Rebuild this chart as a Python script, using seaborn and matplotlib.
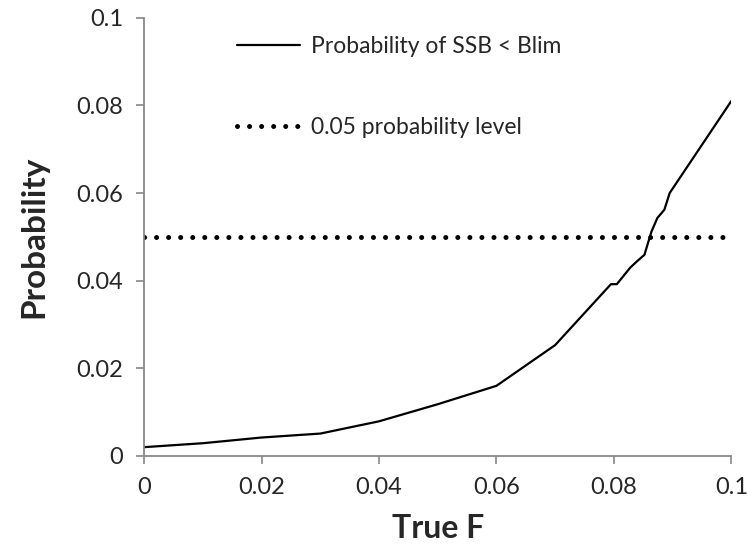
import matplotlib
matplotlib.use("Agg")
import matplotlib.pyplot as plt
import seaborn as sns
import pandas as pd
from matplotlib.lines import Line2D

true_f = [0, 0.01, 0.02, 0.03, 0.04, 0.05, 0.06, 0.07, 0.0795, 0.0805,
          0.0828, 0.0840, 0.0852, 0.0864, 0.0874, 0.0886, 0.0895, 0.1]
prob = [0.0020, 0.0029, 0.0042, 0.0051, 0.0079, 0.0118, 0.0160, 0.0253, 0.0392, 0.0392,
        0.0430, 0.0445, 0.0459, 0.0512, 0.0543, 0.0562, 0.0600, 0.0810]
level_f = [0, 0.1]
level_p = [0.05, 0.05]
series_labels = ["Probability of SSB < Blim", "0.05 probability level"]

sns.set_style("white")
plt.rcParams['font.family'] = ['Lato', 'DejaVu Sans']

fig = plt.figure(figsize=(7.47, 5.56), dpi=100)
ax = fig.add_axes([0.193, 0.180, 0.786, 0.788])

df = pd.DataFrame({"F": true_f, "P": prob})
dl = pd.DataFrame({"F": level_f, "P": level_p})
sns.lineplot(data=df, x="F", y="P", ax=ax, color="black", linewidth=1.6,
             estimator=None, sort=False)
sns.lineplot(data=dl, x="F", y="P", ax=ax, color="black", linewidth=3.6,
             estimator=None, sort=False, linestyle=(0, (0.01, 2.4)),
             dash_capstyle="round")
for ln in ax.lines:
    if ln.get_linewidth() > 3:
        ln.set_dash_capstyle("round")

ax.set_xlim(0, 0.1)
ax.set_ylim(0, 0.1)
ticks = [0, 0.02, 0.04, 0.06, 0.08, 0.1]
ticklabels = ["0", "0.02", "0.04", "0.06", "0.08", "0.1"]
ax.set_xticks(ticks)
ax.set_xticklabels(ticklabels)
ax.set_yticks(ticks)
ax.set_yticklabels(ticklabels)
ax.tick_params(axis="both", direction="out", length=6, width=1.2, color="#888888",
               labelsize=17, pad=9, bottom=True, left=True)
for s in ["top", "right"]:
    ax.spines[s].set_visible(False)
for s in ["left", "bottom"]:
    ax.spines[s].set_color("#888888")
    ax.spines[s].set_linewidth(1.3)

ax.set_xlabel("True F", fontsize=23, fontweight="bold", labelpad=12)
ax.set_ylabel("Probability", fontsize=24, fontweight="bold", labelpad=20)

h1 = Line2D([], [], color="black", linewidth=1.6)
h2 = Line2D([], [], color="black", linewidth=3.6, linestyle=(0, (0.01, 2.4)),
            dash_capstyle="round")
leg = ax.legend([h1, h2], series_labels, loc="upper left",
                bbox_to_anchor=(0.123, 1.005), frameon=False, fontsize=16.5,
                handlelength=2.75, labelspacing=2.6, handletextpad=0.5)

fig.savefig("out.png", dpi=100)
